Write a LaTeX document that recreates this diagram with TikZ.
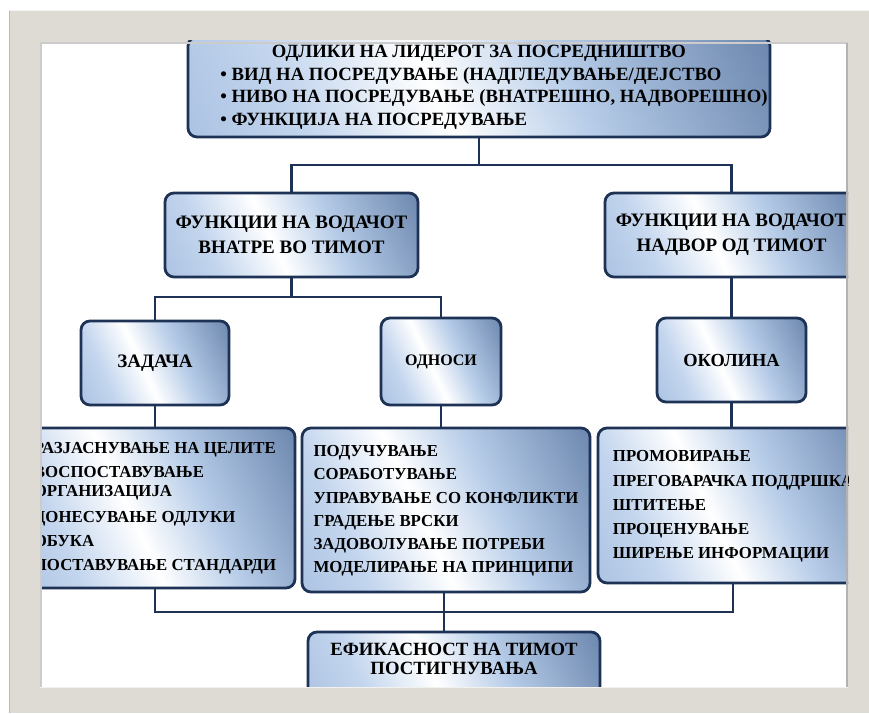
\documentclass[tikz,border=0pt]{standalone}
\usepackage{fontspec}
\setmainfont{Liberation Serif}
\usepackage{tikz}
\usetikzlibrary{calc}

\definecolor{navy}{RGB}{30,50,85}
\definecolor{framegrey}{RGB}{222,219,212}
\definecolor{mtA}{RGB}{140,170,212}
\definecolor{mtB}{RGB}{196,214,238}
\definecolor{mtC}{RGB}{182,204,232}
\definecolor{mtD}{RGB}{105,132,172}
\definecolor{mtE}{RGB}{45,68,108}
\pgfdeclarehorizontalshading{metal}{100bp}{color(0bp)=(mtA); color(30bp)=(mtB);
  color(45bp)=(white); color(60bp)=(mtC); color(84bp)=(mtD); color(100bp)=(mtE)}

\begin{document}
\begin{tikzpicture}[x=1pt, y=-1pt,
    box/.style={draw=navy, line width=2.8pt, rounded corners=9pt, shade,
        shading=metal, shading angle=25, align=center, inner sep=0pt,
        font=\bfseries\fontsize{19}{25}\selectfont},
    listbox/.style={box, font=\bfseries\fontsize{16.8}{23.3}\selectfont},
    link/.style={draw=navy, line width=2.8pt}]

    % frame of the slide
    \useasboundingbox (0,0) rectangle (869,713);
    \fill[white] (0,0) rectangle (869,713);
    \fill[framegrey] (9,10) rectangle (869,713);
    \draw[framegrey!85!black, line width=1pt] (9.5,713) -- (9.5,10.5);
    \draw[white!70!framegrey, line width=1pt] (9.5,10.5) -- (869,10.5);
    \fill[white] (40,42) rectangle (848,687);

    \begin{scope}
    \clip (40,40) rectangle (848,687);

    \node[box, minimum width=582pt, minimum height=100pt,
        font=\bfseries\fontsize{18.7}{22.4}\selectfont] (lider) at (479,87)
        {\begin{tabular}{@{\hspace{30pt}}l@{}}
         \multicolumn{1}{@{}c@{}}{ОДЛИКИ НА ЛИДЕРОТ ЗА ПОСРЕДНИШТВО}\\
         • ВИД НА ПОСРЕДУВАЊЕ (НАДГЛЕДУВАЊЕ/ДЕЈСТВО\\
         • НИВО НА ПОСРЕДУВАЊЕ (ВНАТРЕШНО, НАДВОРЕШНО)\\
         • ФУНКЦИЈА НА ПОСРЕДУВАЊЕ
         \end{tabular}};

    \node[box, minimum width=253pt, minimum height=84pt] (vnatre) at (291.5,235)
        {ФУНКЦИИ НА ВОДАЧОТ\\ВНАТРЕ ВО ТИМОТ};
    \node[box, minimum width=253pt, minimum height=84pt] (nadvor) at (731.5,235)
        {ФУНКЦИИ НА ВОДАЧОТ\\НАДВОР ОД ТИМОТ};

    \node[box, minimum width=148pt, minimum height=84pt] (zadaca) at (155,363) {ЗАДАЧА};
    \node[box, minimum width=120pt, minimum height=87pt,
        font=\bfseries\fontsize{16}{20}\selectfont] (odnosi) at (441,361.5) {ОДНОСИ};
    \node[box, minimum width=149pt, minimum height=84pt,
        font=\bfseries\fontsize{18.4}{22}\selectfont] (okolina) at (731.5,360) {ОКОЛИНА};

    \node[listbox, minimum width=280pt, minimum height=160pt,
        font=\bfseries\fontsize{16.8}{19.5}\selectfont] (listL) at (155,508)
        {\begin{tabular}{@{}l@{}}
         РАЗЈАСНУВАЊЕ НА ЦЕЛИТЕ\\[4.5pt]
         ВОСПОСТАВУВАЊЕ\\
         ОРГАНИЗАЦИЈА\\[6pt]
         ДОНЕСУВАЊЕ ОДЛУКИ\\[5pt]
         ОБУКА\\[4.5pt]
         ПОСТАВУВАЊЕ СТАНДАРДИ
         \end{tabular}};
    \node[listbox, minimum width=288pt, minimum height=164pt] (listM) at (446,510)
        {\begin{tabular}{@{}l@{}}
         ПОДУЧУВАЊЕ\\
         СОРАБОТУВАЊЕ\\
         УПРАВУВАЊЕ СО КОНФЛИКТИ\\
         ГРАДЕЊЕ ВРСКИ\\
         ЗАДОВОЛУВАЊЕ ПОТРЕБИ\\
         МОДЕЛИРАЊЕ НА ПРИНЦИПИ
         \end{tabular}};
    \node[listbox, minimum width=270pt, minimum height=155pt,
        font=\bfseries\fontsize{16.8}{24.2}\selectfont] (listR) at (733,505.5)
        {\begin{tabular}{@{}l@{}}
         ПРОМОВИРАЊЕ\\
         ПРЕГОВАРАЧКА ПОДДРШКА\\
         ШТИТЕЊЕ\\
         ПРОЦЕНУВАЊЕ\\
         ШИРЕЊЕ ИНФОРМАЦИИ
         \end{tabular}};

    \node[box, minimum width=292pt, minimum height=73pt,
        font=\bfseries\fontsize{18.7}{19.5}\selectfont] (efikasnost) at (454,668.5)
        {ЕФИКАСНОСТ НА ТИМОТ\\ПОСТИГНУВАЊА\\\mbox{}};

    % connectors
    \coordinate (bar1) at (479,165);
    \coordinate (bar2) at (291.5,297);
    \coordinate (bar3) at (444,612);
    \draw[link] (lider.south) -- (bar1);
    \draw[link] (vnatre.north) |- (bar1) -| (nadvor.north);
    \draw[link] (vnatre.south) -- (bar2);
    \draw[link] (zadaca.north) |- (bar2) -| (odnosi.north);
    \draw[link] (nadvor.south) -- (okolina.north);
    \draw[link] (zadaca.south) -- (listL.north);
    \draw[link] (odnosi.south) -- (odnosi.south |- listM.north);
    \draw[link] (okolina.south) -- (okolina.south |- listR.north);
    \draw[link] (listL.south) |- (bar3) -| (listR.south);
    \draw[link] (listM.south -| bar3) -- (bar3);
    \draw[link] (bar3) -- (bar3 |- efikasnost.north);
    \end{scope}

    % inner edge of the frame
    \draw[gray!40, line width=1.5pt] (41,687) -- (41,43) -- (848,43);
    \draw[gray!60, line width=2pt] (846.5,43) -- (846.5,687);
    \draw[white!60!framegrey, line width=1pt] (40,687.5) -- (848,687.5);
\end{tikzpicture}
\end{document}
